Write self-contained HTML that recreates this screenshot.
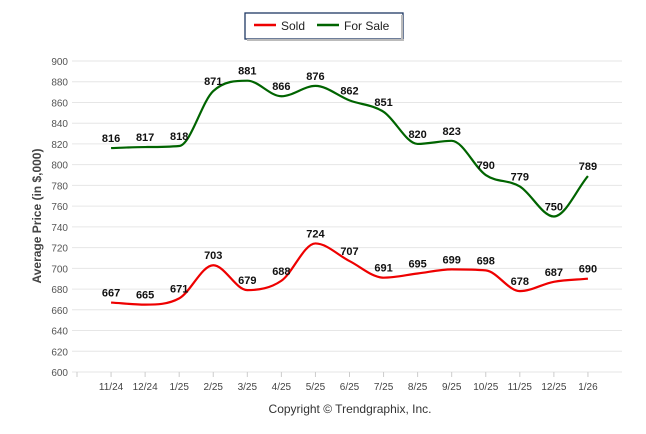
<!DOCTYPE html>
<html><head><meta charset="utf-8"><style>
body{margin:0;background:#fff;font-family:"Liberation Sans",Arial,sans-serif}
svg{display:block}
</style></head><body>
<svg id="c" width="646" height="434">
<g>
<rect x="245" y="13" width="158" height="26" fill="#fff" stroke="#1f3864" stroke-width="1.3"/>
<line x1="402" y1="15" x2="402" y2="41" stroke="#bbb" stroke-width="2"/>
<line x1="247" y1="40" x2="404" y2="40" stroke="#bbb" stroke-width="2"/>
<g><line x1="254" y1="25" x2="276" y2="25" stroke="#e00" stroke-width="2.5"/><text x="281" y="30" font-size="12" fill="#222">Sold</text></g>
<g><line x1="317" y1="25" x2="339" y2="25" stroke="#006400" stroke-width="2.5"/><text x="344" y="30" font-size="12" fill="#222">For Sale</text></g>
</g>
<text transform="translate(41,216) rotate(-90)" text-anchor="middle" font-size="12" font-weight="bold" fill="#444">Average Price (in $,000)</text>
<text x="350" y="413" text-anchor="middle" font-size="12" fill="#333">Copyright © Trendgraphix, Inc.</text>
<g id="grid"></g><g id="lines"></g><g id="labels"></g>
</svg>
<script>
const categories=["11/24","12/24","1/25","2/25","3/25","4/25","5/25","6/25","7/25","8/25","9/25","10/25","11/25","12/25","1/26"];
const soldValues=[667,665,671,703,679,688,724,707,691,695,699,698,678,687,690];
const forSaleValues=[816,817,818,871,881,866,876,862,851,820,823,790,779,750,789];
const yTicks=[600,620,640,660,680,700,720,740,760,780,800,820,840,860,880,900];
const NS="http://www.w3.org/2000/svg";
const x0=77,x1=622,yTop=61,yBot=372,yMin=600,yMax=900;
const X=i=>x0+(i+1)*(x1-x0)/(categories.length+1);
const Y=v=>yBot-(v-yMin)*(yBot-yTop)/(yMax-yMin);
function mk(tag,attrs,parent){const e=document.createElementNS(NS,tag);for(const k in attrs)e.setAttribute(k,attrs[k]);parent.appendChild(e);return e;}
const grid=document.getElementById('grid');
yTicks.forEach(t=>{
 const l=mk('line',{x1:x0-5,x2:x1,y1:Y(t),y2:Y(t),stroke:'#e6e6e6','stroke-width':1},grid);
 
 
 const tx=mk('text',{x:68,y:Y(t)+4,'text-anchor':'end','font-size':'10',fill:'#555'},grid);
 tx.textContent=t;
 
 
});
mk('line',{x1:x0,x2:x0,y1:yBot,y2:yBot+5,stroke:'#ccc'},grid);
categories.forEach((c,i)=>{
 mk('line',{x1:X(i),x2:X(i),y1:yBot,y2:yBot+5,stroke:'#ccc'},grid);
 const tx=mk('text',{x:X(i),y:yBot+18,'text-anchor':'middle','font-size':'10',fill:'#444'},grid);
 tx.textContent=c;
 
 
});
function mono(pts){
 const n=pts.length,d=[],m=[];
 for(let i=0;i<n-1;i++)d.push((pts[i+1][1]-pts[i][1])/(pts[i+1][0]-pts[i][0]));
 for(let i=0;i<n;i++){
  if(i==0)m.push(d[0]);else if(i==n-1)m.push(d[n-2]);
  else m.push(d[i-1]*d[i]<=0?0:(d[i-1]+d[i])/2);
 }
 for(let i=0;i<n-1;i++){if(d[i]==0){m[i]=m[i+1]=0;continue;}const a=m[i]/d[i],b=m[i+1]/d[i],s=a*a+b*b;if(s>9){const t=3/Math.sqrt(s);m[i]=t*a*d[i];m[i+1]=t*b*d[i];}}
 let p='M'+pts[0][0]+','+pts[0][1];
 for(let i=0;i<n-1;i++){const h=(pts[i+1][0]-pts[i][0])/3;
  p+=` C${pts[i][0]+h},${pts[i][1]+m[i]*h} ${pts[i+1][0]-h},${pts[i+1][1]-m[i+1]*h} ${pts[i+1][0]},${pts[i+1][1]}`;}
 return p;
}
const lines=document.getElementById('lines'),labels=document.getElementById('labels');
[[forSaleValues,'#006400','for-sale'],[soldValues,'#e00','sold']].forEach(([vals,col,nm])=>{
 const pts=vals.map((v,i)=>[X(i),Y(v)]);
 const p=mk('path',{d:mono(pts),fill:'none',stroke:col,'stroke-width':2.2},lines);
 
 
 vals.forEach((v,i)=>{
  const t=mk('text',{x:X(i),y:Y(v)-6,'text-anchor':'middle','font-size':'11','font-weight':'bold',fill:'#111'},labels);
  t.textContent=v;
  
  
 });
});
</script>
</body></html>
